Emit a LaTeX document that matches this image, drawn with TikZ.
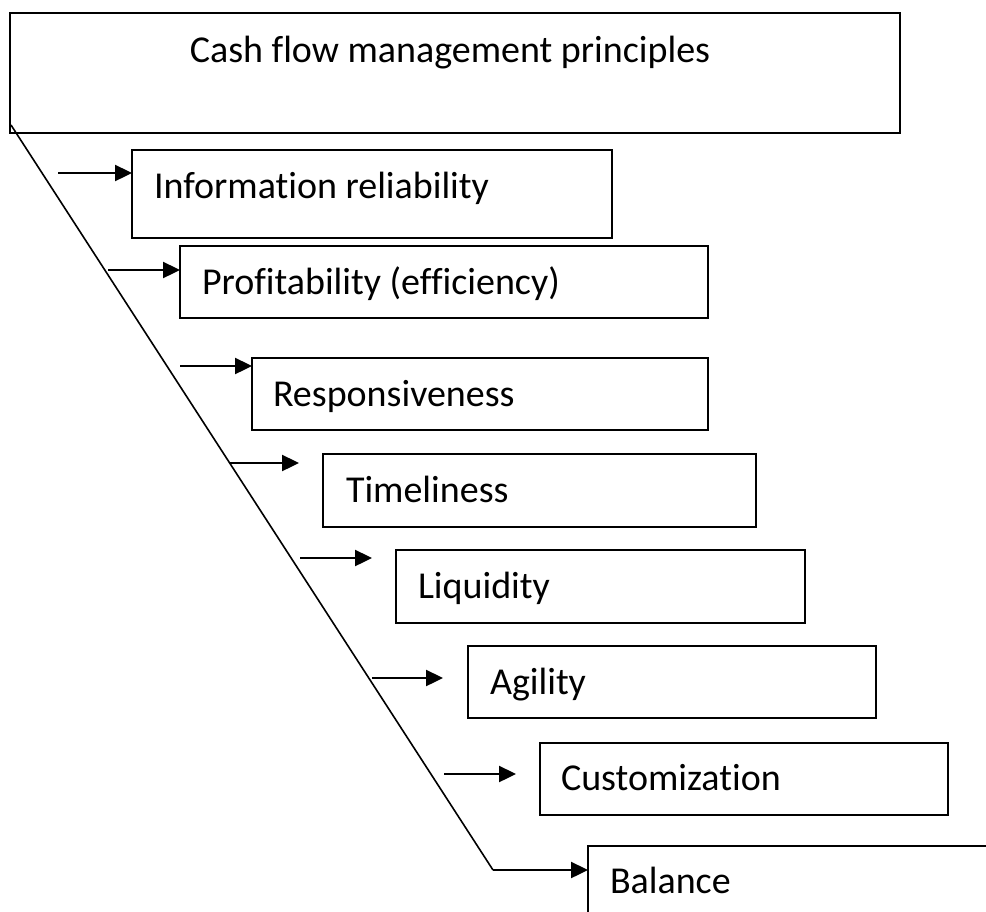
\documentclass[tikz,border=0pt]{standalone}
\usepackage{fontspec}
\setmainfont[Ligatures={NoCommon}]{Carlito}
\usetikzlibrary{arrows.meta}
\begin{document}
\begin{tikzpicture}[x=1pt,y=-1pt,
  box/.style={draw=black, line width=2pt, inner sep=0pt, outer sep=0pt, anchor=north west},
  lbl/.style={anchor=base west, inner sep=0pt, outer sep=0pt, font=\fontsize{38}{42}\selectfont},
  arr/.style={line width=2.4pt, -{Triangle[length=17pt,width=16pt]}},
  spine/.style={line width=1.6pt}]
\useasboundingbox (0,0) rectangle (986,911);
\clip (0,0) rectangle (986,911);
% boxes
\node[box, minimum width=890pt, minimum height=120pt] (top) at (10,13) {};
\node[box, minimum width=480pt, minimum height=88pt] (b1) at (132,150) {};
\node[box, minimum width=528pt, minimum height=72pt] (b2) at (180,246) {};
\node[box, minimum width=456pt, minimum height=72pt] (b3) at (252,358) {};
\node[box, minimum width=433pt, minimum height=73pt] (b4) at (323,454) {};
\node[box, minimum width=409pt, minimum height=73pt] (b5) at (396,550) {};
\node[box, minimum width=408pt, minimum height=72pt] (b6) at (468,646) {};
\node[box, minimum width=408pt, minimum height=72pt] (b7) at (540,743) {};
\node[box, minimum width=430pt, minimum height=110pt] (b8) at (588,846) {};
% labels
\node[lbl, anchor=base] (t0) at (450,62) {Cash flow management principles};
\node[lbl] (t1) at (154,198) {Information reliability};
\node[lbl] (t2) at (202,294) {Profitability (efficiency)};
\node[lbl] (t3) at (273,406) {Responsiveness};
\node[lbl] (t4) at (346,502) {Timeliness};
\node[lbl] (t5) at (418,598) {Liquidity};
\node[lbl] (t6) at (490,694) {Agility};
\node[lbl] (t7) at (561,790) {Customization};
\node[lbl] (t8) at (610,893) {Balance};
% spine
\coordinate (d0) at (11,125);
\coordinate (d1) at (493,870);
\draw[spine] (d0) -- (d1);
\draw[arr] (d1) -- (b8.west |- d1);
% arrows
\coordinate (s1) at (58,173);
\coordinate (s2) at (108,270);
\coordinate (s3) at (180,366);
\coordinate (s4) at (230,463);
\coordinate (e4) at (299,463);
\coordinate (s5) at (300,558);
\coordinate (e5) at (372,558);
\coordinate (s6) at (372,678);
\coordinate (e6) at (443,678);
\coordinate (s7) at (444,774);
\coordinate (e7) at (516,774);
\draw[arr] (s1) -- (b1.west |- s1);
\draw[arr] (s2) -- (b2.west |- s2);
\draw[arr] (s3) -- (b3.west |- s3);
\draw[arr] (s4) -- (e4);
\draw[arr] (s5) -- (e5);
\draw[arr] (s6) -- (e6);
\draw[arr] (s7) -- (e7);
\end{tikzpicture}
\end{document}
